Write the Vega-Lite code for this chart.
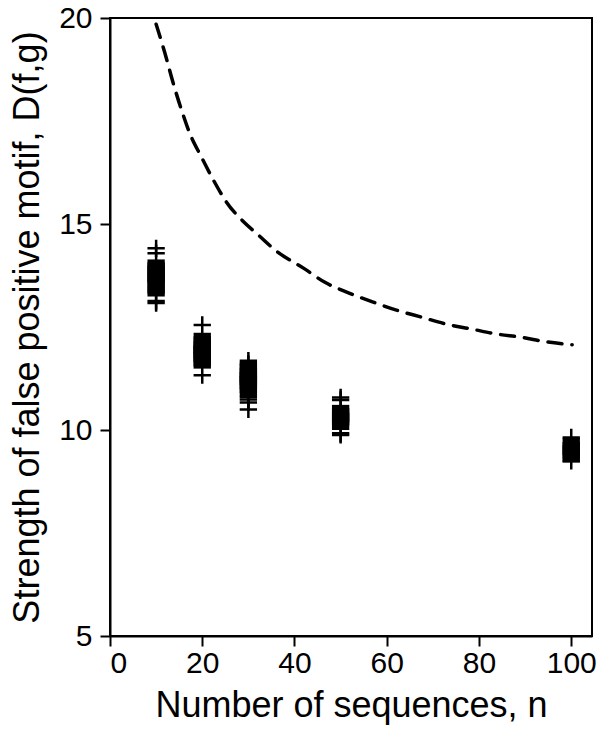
{
  "$schema": "https://vega.github.io/schema/vega-lite/v6.json",
  "width": 482,
  "height": 618,
  "autosize": {"type": "none"},
  "padding": {"left": 110, "top": 18, "right": 8, "bottom": 104},
  "background": "white",
  "config": {
    "font": "Liberation Sans",
    "view": {"stroke": "black", "strokeWidth": 2},
    "axis": {
      "grid": false,
      "domainColor": "black",
      "domainWidth": 2,
      "tickColor": "black",
      "tickWidth": 2,
      "tickSize": 10,
      "labelFont": "Liberation Sans",
      "labelFontSize": 30,
      "labelColor": "black",
      "titleFont": "Liberation Sans",
      "titleFontSize": 36,
      "titleFontWeight": "normal",
      "titleColor": "black"
    }
  },
  "datasets": {
    "pts": [
      {"n": 10, "D": 13.93, "m": "square"},
      {"n": 10, "D": 13.86, "m": "square"},
      {"n": 10, "D": 13.79, "m": "square"},
      {"n": 10, "D": 13.52, "m": "square"},
      {"n": 10, "D": 13.45, "m": "square"},
      {"n": 20, "D": 12.15, "m": "square"},
      {"n": 20, "D": 12.06, "m": "square"},
      {"n": 20, "D": 11.94, "m": "square"},
      {"n": 20, "D": 11.85, "m": "square"},
      {"n": 20, "D": 11.75, "m": "square"},
      {"n": 20, "D": 11.7, "m": "square"},
      {"n": 30, "D": 11.45, "m": "square"},
      {"n": 30, "D": 11.38, "m": "square"},
      {"n": 30, "D": 11.3, "m": "square"},
      {"n": 30, "D": 11.2, "m": "square"},
      {"n": 30, "D": 11.1, "m": "square"},
      {"n": 30, "D": 11.02, "m": "square"},
      {"n": 50, "D": 10.4, "m": "square"},
      {"n": 50, "D": 10.32, "m": "square"},
      {"n": 50, "D": 10.21, "m": "square"},
      {"n": 100, "D": 9.6, "m": "square"},
      {"n": 100, "D": 9.5, "m": "square"},
      {"n": 100, "D": 9.42, "m": "square"},
      {"n": 10, "D": 14.41, "m": "plus"},
      {"n": 10, "D": 14.29, "m": "plus"},
      {"n": 10, "D": 13.13, "m": "plus"},
      {"n": 10, "D": 13.08, "m": "plus"},
      {"n": 20, "D": 12.55, "m": "plus"},
      {"n": 20, "D": 12.0, "m": "plus"},
      {"n": 20, "D": 11.33, "m": "plus"},
      {"n": 30, "D": 11.68, "m": "plus"},
      {"n": 30, "D": 11.6, "m": "plus"},
      {"n": 30, "D": 10.8, "m": "plus"},
      {"n": 30, "D": 10.74, "m": "plus"},
      {"n": 30, "D": 10.67, "m": "plus"},
      {"n": 30, "D": 10.5, "m": "plus"},
      {"n": 50, "D": 10.79, "m": "plus"},
      {"n": 50, "D": 10.73, "m": "plus"},
      {"n": 50, "D": 9.92, "m": "plus"},
      {"n": 50, "D": 9.88, "m": "plus"},
      {"n": 100, "D": 9.82, "m": "plus"},
      {"n": 100, "D": 9.25, "m": "plus"}
    ],
    "curve": [
      {"n": 10, "D": 19.85},
      {"n": 11.9, "D": 19.15},
      {"n": 13.7, "D": 18.42},
      {"n": 15.5, "D": 17.77},
      {"n": 17.3, "D": 17.2},
      {"n": 19.8, "D": 16.63},
      {"n": 22.4, "D": 16.07},
      {"n": 25.2, "D": 15.54},
      {"n": 28.9, "D": 15.06},
      {"n": 32, "D": 14.75},
      {"n": 36, "D": 14.35},
      {"n": 42.2, "D": 13.91},
      {"n": 46.5, "D": 13.59},
      {"n": 51.7, "D": 13.33},
      {"n": 56.9, "D": 13.11},
      {"n": 62.1, "D": 12.91},
      {"n": 67.5, "D": 12.74},
      {"n": 72.9, "D": 12.57},
      {"n": 78.4, "D": 12.45},
      {"n": 83.8, "D": 12.33},
      {"n": 89.2, "D": 12.25},
      {"n": 94.6, "D": 12.14},
      {"n": 100.2, "D": 12.07}
    ]
  },
  "encoding": {
    "x": {
      "field": "n", "type": "quantitative",
      "scale": {"domain": [0, 104.5], "nice": false, "zero": false},
      "axis": {"values": [0, 20, 40, 60, 80, 100], "title": "Number of sequences, n", "labelPadding": 2, "titlePadding": 10}
    },
    "y": {
      "field": "D", "type": "quantitative",
      "scale": {"domain": [5, 20], "nice": false, "zero": false},
      "axis": {"values": [5, 10, 15, 20], "title": "Strength of false positive motif, D(f,g)", "labelPadding": 8, "titlePadding": 12}
    }
  },
  "layer": [
    {
      "data": {"name": "curve"},
      "mark": {"type": "line", "color": "black", "strokeWidth": 3.5, "strokeDash": [14, 10], "strokeCap": "round", "interpolate": "monotone"}
    },
    {
      "data": {"name": "pts"},
      "transform": [{"filter": "datum.m === 'plus'"}],
      "mark": {"type": "point", "shape": "M-1,0L1,0M0,-1L0,1", "size": 300, "filled": false, "stroke": "black", "strokeWidth": 2.5, "opacity": 1}
    },
    {
      "data": {"name": "pts"},
      "transform": [{"filter": "datum.m === 'square'"}],
      "mark": {"type": "point", "shape": "square", "size": 300, "filled": true, "fill": "black", "strokeWidth": 0, "opacity": 1}
    }
  ]
}
